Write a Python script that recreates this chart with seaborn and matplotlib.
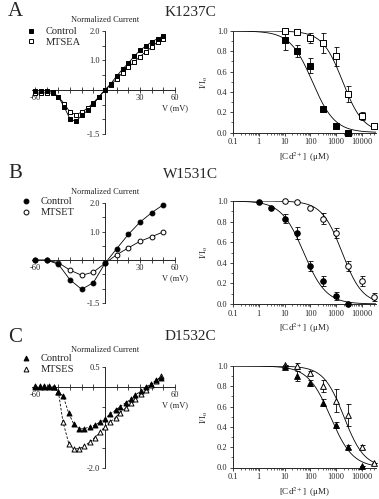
import numpy as np
import matplotlib
matplotlib.use("Agg")
import matplotlib.pyplot as plt
import seaborn as sns
from matplotlib.lines import Line2D
from matplotlib.ticker import FixedLocator, FixedFormatter, LogLocator, NullFormatter, MultipleLocator

sns.set_style("ticks")
plt.rcParams["font.family"] = ["Liberation Serif", "DejaVu Serif"]
plt.rcParams["mathtext.fontset"] = "stix"

# ---------------- data: I-V relations ----------------
# A  K1237C
v_a = [-60, -55, -50, -45, -40, -35, -30, -25, -20, -15, -10, -5, 0,
       5, 10, 15, 20, 25, 30, 35, 40, 45, 50]
ctrl_iv_a = [-0.03, -0.03, -0.03, -0.08, -0.23, -0.58, -0.99, -1.07, -0.87, -0.70, -0.49, -0.23, 0.0,
             0.21, 0.47, 0.70, 0.91, 1.14, 1.34, 1.49, 1.63, 1.74, 1.83]
mtsea_iv_a = [-0.09, -0.12, -0.09, -0.12, -0.23, -0.47, -0.76, -0.84, -0.76, -0.62, -0.44, -0.23, 0.0,
              0.17, 0.37, 0.58, 0.76, 0.95, 1.13, 1.30, 1.45, 1.63, 1.72]

# B  W1531C
v_b = [-60, -50, -40, -30, -20, -10, 0, 10, 20, 30, 40, 50]
ctrl_iv_b = [0.0, 0.0, -0.14, -0.69, -1.02, -0.79, -0.11, 0.40, 0.90, 1.33, 1.66, 1.94]
mtset_iv_b = [0.0, 0.0, -0.09, -0.35, -0.53, -0.42, -0.11, 0.19, 0.43, 0.66, 0.82, 0.99]

# C  D1532C
v_c = [-60, -56, -52, -48, -44, -40, -36, -31, -27, -22, -18, -13, -9, -4, 0,
       4, 9, 13, 18, 22, 26, 31, 35, 39, 44, 48]
ctrl_iv_c = [0.0, 0.0, 0.0, 0.0, 0.0, -0.13, -0.21, -0.65, -0.90, -1.03, -1.03, -0.98, -0.94, -0.86, -0.78,
             -0.67, -0.57, -0.48, -0.38, -0.30, -0.19, -0.09, 0.0, 0.08, 0.17, 0.24]
mtses_iv_c = [0.02, 0.02, 0.02, 0.02, 0.0, -0.11, -0.86, -1.40, -1.53, -1.52, -1.46, -1.36, -1.25, -1.12, -0.98,
              -0.87, -0.75, -0.63, -0.51, -0.40, -0.29, -0.17, -0.06, 0.05, 0.16, 0.27]

# ---------------- data: Cd2+ block ----------------
conc_ctrl_a = [10, 30, 100, 300, 1000, 3000]
frac_ctrl_a = [0.91, 0.80, 0.66, 0.23, 0.06, 0.0]
err_ctrl_a = [0.10, 0.06, 0.07, 0.03, 0.0, 0.0]
conc_mtsea_a = [10, 30, 100, 300, 1000, 3000, 10000, 30000]
frac_mtsea_a = [1.0, 0.99, 0.93, 0.88, 0.75, 0.38, 0.16, 0.06]
err_mtsea_a = [0.0, 0.0, 0.05, 0.10, 0.09, 0.08, 0.04, 0.0]

conc_ctrl_b = [1, 3, 10, 30, 100, 300, 1000, 3000]
frac_ctrl_b = [0.99, 0.93, 0.83, 0.69, 0.37, 0.22, 0.08, 0.0]
err_ctrl_b = [0.0, 0.0, 0.04, 0.06, 0.05, 0.05, 0.04, 0.0]
conc_mtset_b = [10, 30, 100, 300, 1000, 3000, 10000, 30000]
frac_mtset_b = [1.0, 0.99, 0.93, 0.83, 0.69, 0.37, 0.22, 0.07]
err_mtset_b = [0.0, 0.0, 0.01, 0.05, 0.05, 0.05, 0.05, 0.04]

conc_ctrl_c = [10, 30, 100, 300, 1000, 3000, 10000]
frac_ctrl_c = [0.99, 0.90, 0.83, 0.64, 0.42, 0.20, 0.01]
err_ctrl_c = [0.01, 0.05, 0.03, 0.03, 0.03, 0.02, 0.0]
conc_mtses_c = [10, 30, 100, 300, 1000, 3000, 10000, 30000]
frac_mtses_c = [1.01, 1.0, 0.93, 0.80, 0.66, 0.52, 0.20, 0.04]
err_mtses_c = [0.0, 0.03, 0.02, 0.06, 0.11, 0.11, 0.02, 0.0]

# Hill fit parameters (IC50 in uM, Hill coefficient)
ic50_a = [120, 1800]
hill_a = [1.0, 1.1]
ic50_b = [55, 1700]
hill_b = [1.0, 1.1]
ic50_c = [600, 2000]
hill_c = [1.0, 1.1]

titles = ["K1237C", "W1531C", "D1532C"]
letters = ["A", "B", "C"]
legend_labels = [["Control", "MTSEA"], ["Control", "MTSET"], ["Control", "MTSES"]]

W, H = 379, 499
fig = plt.figure(figsize=(W / 100, H / 100), dpi=100)

# marker areas (pt^2) per shape
iv_size = {"s": 10, "o": 12, "^": 13}
blk_size = {"s": 14, "o": 16, "^": 17}


def rect(x0, y0, x1, y1):
    return [x0 / W, 1 - y1 / H, (x1 - x0) / W, (y1 - y0) / H]


def draw_points(ax, x, y, marker, filled, size, err=None):
    if err is not None:
        ax.errorbar(x, y, yerr=err, fmt="none", ecolor="black", elinewidth=0.6,
                    capsize=1.8, capthick=0.6, clip_on=False, zorder=2)
    sns.scatterplot(x=x, y=y, ax=ax, marker=marker, s=size,
                    color="black" if filled else "white", edgecolor="black",
                    linewidth=0.7, clip_on=False, zorder=3, legend=False)


def iv_panel(r, ylim, yticks, ylabels, xlabels, v, ctrl, mod, marker, dashed, legend_xy, names, ncur_pad):
    ax = fig.add_axes(r)
    ax.set_facecolor("none")
    ls = (0, (3, 2)) if dashed else "-"
    sns.lineplot(x=v, y=ctrl, ax=ax, color="black", lw=0.6, sort=False, linestyle=ls)
    sns.lineplot(x=v, y=mod, ax=ax, color="black", lw=0.6, sort=False, linestyle=ls)
    draw_points(ax, v, mod, marker, False, iv_size[marker])
    draw_points(ax, v, ctrl, marker, True, iv_size[marker])
    ax.set_xlim(-63, 60)
    ax.set_ylim(*ylim)
    for s in ["top", "right"]:
        ax.spines[s].set_visible(False)
    ax.spines["left"].set_position(("data", 0))
    ax.spines["bottom"].set_position(("data", 0))
    for s in ["left", "bottom"]:
        ax.spines[s].set_linewidth(0.7)
    xt = list(range(-60, 61, 10))
    ax.xaxis.set_major_locator(FixedLocator(xt))
    ax.xaxis.set_major_formatter(FixedFormatter([xlabels.get(t, "") for t in xt]))
    ax.yaxis.set_major_locator(FixedLocator(yticks))
    ax.yaxis.set_major_formatter(FixedFormatter([ylabels.get(t, "") for t in yticks]))
    ax.tick_params(axis="x", direction="inout", length=4, width=0.6, labelsize=6, pad=1)
    ax.tick_params(axis="y", direction="out", length=2.5, width=0.6, labelsize=6, pad=1)
    ax.set_xlabel("")
    ax.set_ylabel("")
    ax.annotate("Normalized Current", xy=(0, ylim[1]), xytext=(0, ncur_pad), textcoords="offset points",
                ha="center", va="bottom", fontsize=6)
    ax.annotate("V (mV)", xy=(60, 0), xytext=(0, -10), textcoords="offset points",
                ha="center", va="top", fontsize=6)
    handles = [Line2D([], [], marker=marker, color="black", markerfacecolor="black", ls="none",
                      markersize=3.5, markeredgewidth=0.7),
               Line2D([], [], marker=marker, color="black", markerfacecolor="white", ls="none",
                      markersize=3.5, markeredgewidth=0.7)]
    ax.legend(handles, names, loc="upper left", bbox_to_anchor=(legend_xy[0] / W, 1 - legend_xy[1] / H),
              bbox_transform=fig.transFigure, frameon=False, fontsize=7.5, handlelength=1.0,
              handletextpad=0.9, labelspacing=0.15, borderpad=0, borderaxespad=0)
    return ax


def block_panel(r, data, ic50, hill, marker):
    ax = fig.add_axes(r)
    ax.set_facecolor("none")
    ax.set_xscale("log")
    grid = np.logspace(-1, np.log10(35000), 300)
    for k in range(2):
        fit = 1.0 / (1.0 + (grid / ic50[k]) ** hill[k])
        sns.lineplot(x=grid, y=fit, ax=ax, color="black", lw=0.6)
    (cc, fc, ec), (cm, fm, em) = data
    draw_points(ax, cm, fm, marker, False, blk_size[marker], em)
    draw_points(ax, cc, fc, marker, True, blk_size[marker], ec)
    ax.set_xlim(0.1, 35000)
    ax.set_ylim(0, 1.0)
    for s in ["top", "right"]:
        ax.spines[s].set_visible(False)
    for s in ["left", "bottom"]:
        ax.spines[s].set_linewidth(0.7)
    ax.xaxis.set_major_locator(FixedLocator([0.1, 1, 10, 100, 1000, 10000]))
    ax.xaxis.set_major_formatter(FixedFormatter(["0.1", "1", "10", "100", "1000", "10000"]))
    ax.xaxis.set_minor_locator(LogLocator(base=10, subs=np.arange(2, 10)))
    ax.xaxis.set_minor_formatter(NullFormatter())
    ax.yaxis.set_minor_locator(MultipleLocator(0.1))
    ax.yaxis.set_major_locator(FixedLocator([0, 0.2, 0.4, 0.6, 0.8, 1.0]))
    ax.yaxis.set_major_formatter(FixedFormatter(["0.0", "0.2", "0.4", "0.6", "0.8", "1.0"]))
    ax.tick_params(which="major", direction="out", length=2.5, width=0.6, labelsize=6, pad=1.5)
    ax.tick_params(which="minor", direction="out", length=1.3, width=0.5)
    ax.set_xlabel(r"[Cd$^{2+}$]  (μM)", fontsize=6.5, labelpad=3)
    ax.set_ylabel(r"I/I$_{\rm o}$", fontsize=6.5, labelpad=5)
    return ax


# row geometry in pixels
iv_rows = [(31.5, 31, 175, 134), (31.5, 203, 175, 303), (31.5, 367, 175, 468)]
blk_rows = [(233, 31, 376, 132.5), (233, 201, 376, 304), (233, 366, 376, 467.5)]

iv_panel(rect(*iv_rows[0]), (-1.5, 2.0), [-1.5, -1.0, -0.5, 0, 0.5, 1.0, 1.5, 2.0],
         {-1.5: "-1.5", 1.0: "1.0", 2.0: "2.0"}, {-60: "-60", 30: "30", 60: "60"},
         v_a, ctrl_iv_a, mtsea_iv_a, "s", False, (26, 27), legend_labels[0], 5)
iv_panel(rect(*iv_rows[1]), (-1.5, 2.0), [-1.5, -1.0, -0.5, 0, 0.5, 1.0, 1.5, 2.0],
         {-1.5: "-1.5", 1.0: "1.0", 2.0: "2.0"}, {-60: "-60", 30: "30", 60: "60"},
         v_b, ctrl_iv_b, mtset_iv_b, "o", False, (21, 197), legend_labels[1], 5)
iv_panel(rect(*iv_rows[2]), (-2.0, 0.5), [-2.0, -1.5, -1.0, -0.5, 0, 0.5],
         {-2.0: "-2.0", 0.5: "0.5"}, {-60: "-60", 60: "60"},
         v_c, ctrl_iv_c, mtses_iv_c, "^", True, (21, 354), legend_labels[2], 9)

block_panel(rect(*blk_rows[0]),
            [(conc_ctrl_a, frac_ctrl_a, err_ctrl_a), (conc_mtsea_a, frac_mtsea_a, err_mtsea_a)],
            ic50_a, hill_a, "s")
block_panel(rect(*blk_rows[1]),
            [(conc_ctrl_b, frac_ctrl_b, err_ctrl_b), (conc_mtset_b, frac_mtset_b, err_mtset_b)],
            ic50_b, hill_b, "o")
block_panel(rect(*blk_rows[2]),
            [(conc_ctrl_c, frac_ctrl_c, err_ctrl_c), (conc_mtses_c, frac_mtses_c, err_mtses_c)],
            ic50_c, hill_c, "^")

title_y = [12, 174, 337]
for k in range(3):
    fig.text(8 / W, 1 - title_y[k] / H, letters[k], fontsize=15, ha="left", va="center")
    fig.text(190 / W, 1 - title_y[k] / H, titles[k], fontsize=11, ha="center", va="center")

fig.savefig("out.png", dpi=100)
